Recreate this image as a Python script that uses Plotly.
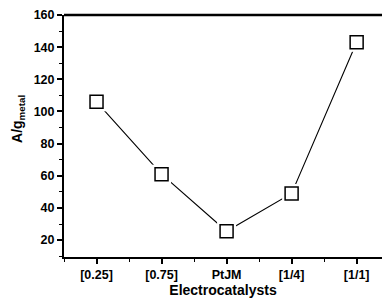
import plotly.graph_objects as go

categories = ["[0.25]", "[0.75]", "PtJM", "[1/4]", "[1/1]"]
values = [106, 61, 25.5, 49, 143]
y_ticks = [20, 40, 60, 80, 100, 120, 140, 160]

xpos = list(range(len(categories)))
FONT = "Liberation Sans, Arial, sans-serif"

fig = go.Figure()
fig.add_trace(go.Scatter(x=xpos, y=values, mode="lines",
                         line=dict(color="black", width=1.1), showlegend=False))
fig.add_trace(go.Scatter(x=xpos, y=values, mode="markers",
                         marker=dict(symbol="square", size=19, color="white",
                                     line=dict(width=0)), showlegend=False))
fig.add_trace(go.Scatter(x=xpos, y=values, mode="markers",
                         marker=dict(symbol="square", size=13, color="white",
                                     line=dict(color="black", width=1.5)),
                         showlegend=False))

fig.update_layout(
    width=382, height=299,
    margin=dict(l=64, r=0, t=15, b=42),
    paper_bgcolor="white", plot_bgcolor="white",
    font=dict(family=FONT, color="black"),
    xaxis=dict(range=[-0.5, 4.39], tickvals=xpos,
               ticktext=categories,
               showgrid=False, zeroline=False, showline=True, linecolor="black",
               linewidth=2, ticks="outside", ticklen=5, tickwidth=1.5,
               tickcolor="black",
               tickfont=dict(size=12.5, family=FONT, weight="bold"),
               minor=dict(dtick=0.5, tick0=0.5, ticks="outside", ticklen=3,
                          tickwidth=1.2, tickcolor="black"),
               title=dict(text="Electrocatalysts",
                          font=dict(size=14, family=FONT, weight="bold"),
                          standoff=4)),
    yaxis=dict(range=[9.5, 160], tickvals=y_ticks,
               ticktext=[str(v) for v in y_ticks],
               showgrid=False,
               zeroline=False, showline=True, linecolor="black", linewidth=2,
               ticks="outside", ticklen=5, tickwidth=1.5, tickcolor="black",
               tickfont=dict(size=12.5, family=FONT, weight="bold"),
               minor=dict(dtick=10, tick0=0, ticks="outside", ticklen=3,
                          tickwidth=1.2, tickcolor="black")),
)
fig.add_annotation(text="A/g<sub>metal</sub>", xref="paper", yref="paper",
                   x=-0.145, y=0.57, textangle=-90, showarrow=False,
                   xanchor="center", yanchor="middle",
                   font=dict(size=14, family=FONT, weight="bold", color="black"))
fig.add_shape(type="line", xref="paper", yref="paper", x0=0, x1=1, y0=1, y1=1,
              line=dict(color="black", width=2.5))

fig.write_html("out.html", config={"displayModeBar": False},
               post_script="document.body.style.margin='0';document.body.style.padding='0';")
